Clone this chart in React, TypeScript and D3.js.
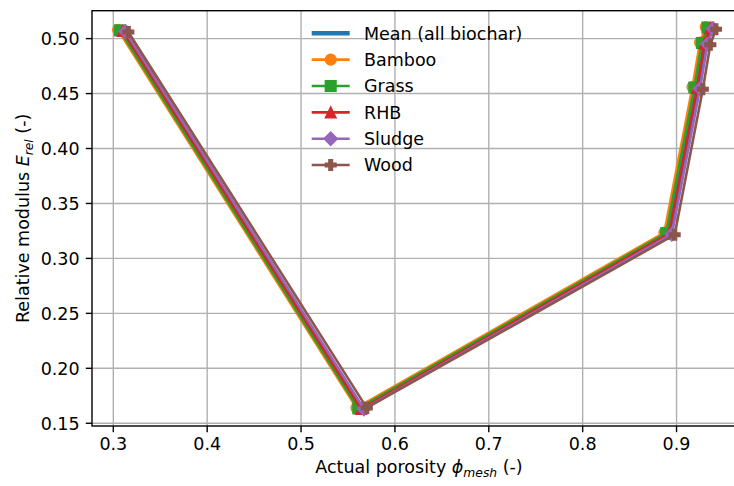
import * as d3 from "d3";

const seriesNames = ["Mean (all biochar)", "Bamboo", "Grass", "RHB", "Sludge", "Wood"];
const seriesColors = ["#1f77b4", "#ff7f0e", "#2ca02c", "#d62728", "#9467bd", "#8c564b"];
const seriesMarkers = ["none", "circle", "square", "triangle", "diamond", "plus"];

const meanX = [0.31, 0.564, 0.892, 0.922, 0.93, 0.936];
const meanY = [0.507, 0.1635, 0.3225, 0.455, 0.4955, 0.5095];
const bambooX = [0.305, 0.559, 0.887, 0.917, 0.925, 0.931];
const bambooY = [0.508, 0.164, 0.3235, 0.456, 0.4965, 0.5105];
const grassX = [0.307, 0.561, 0.889, 0.919, 0.927, 0.933];
const grassY = [0.5075, 0.1635, 0.323, 0.4555, 0.496, 0.51];
const rhbX = [0.31, 0.564, 0.892, 0.922, 0.93, 0.936];
const rhbY = [0.507, 0.163, 0.3225, 0.455, 0.4955, 0.5095];
const sludgeX = [0.313, 0.567, 0.895, 0.925, 0.933, 0.939];
const sludgeY = [0.5065, 0.163, 0.322, 0.4545, 0.495, 0.509];
const woodX = [0.316, 0.57, 0.898, 0.928, 0.936, 0.942];
const woodY = [0.506, 0.164, 0.3215, 0.454, 0.4945, 0.5085];

const xTicks = [0.3, 0.4, 0.5, 0.6, 0.7, 0.8, 0.9];
const yTicks = [0.15, 0.2, 0.25, 0.3, 0.35, 0.4, 0.45, 0.5];

const allX = [meanX, bambooX, grassX, rhbX, sludgeX, woodX];
const allY = [meanY, bambooY, grassY, rhbY, sludgeY, woodY];

const W = 734;
const H = 486;
const margin = { left: 92, top: 10.7, right: 746, bottom: 426 };
const FONT = "DejaVu Sans";
const FS = 17.5;
const MS = 10.6;

function Marker({ type, x, y, color }: { type: string; x: number; y: number; color: string }) {
  const r = MS / 2;
  const common = { fill: color, stroke: color, strokeWidth: 1.5, strokeLinejoin: "miter" as const };
  if (type === "circle") return <circle cx={x} cy={y} r={r} {...common} />;
  if (type === "square") return <rect x={x - r} y={y - r} width={MS} height={MS} {...common} />;
  if (type === "triangle")
    return <path d={`M${x},${y - r}L${x - r},${y + r}L${x + r},${y + r}Z`} {...common} />;
  if (type === "diamond") {
    const d = r * 1.25;
    return <path d={`M${x},${y - d}L${x + d},${y}L${x},${y + d}L${x - d},${y}Z`} {...common} />;
  }
  if (type === "plus") {
    const a = r / 3;
    const p = [
      [-a, -r], [a, -r], [a, -a], [r, -a], [r, a], [a, a], [a, r], [-a, r], [-a, a], [-r, a], [-r, -a], [-a, -a],
    ];
    return <path d={"M" + p.map(([px, py]) => `${x + px},${y + py}`).join("L") + "Z"} {...common} />;
  }
  return null;
}

export default function App() {
  const x = d3.scaleLinear().domain([0.2773, 0.974]).range([margin.left, margin.right]);
  const y = d3.scaleLinear().domain([0.1475, 0.5254]).range([margin.bottom, margin.top]);

  const line = d3
    .line<[number, number]>()
    .x((d) => x(d[0]))
    .y((d) => y(d[1]));

  const legendX = 311.7;
  const legendTextX = 364;
  const legendY0 = 33.3;
  const legendStep = 26.35;

  return (
    <svg
      width={W}
      height={H}
      style={{ position: "absolute", left: 0, top: 0, background: "#fff" }}
      fontFamily={FONT}
    >
      <rect width={W} height={H} fill="#fff" />
      {/* grid */}
      {xTicks.map((t) => (
        <line key={"gx" + t} x1={x(t)} x2={x(t)} y1={margin.top} y2={margin.bottom} stroke="#b0b0b0" strokeWidth={1.4} />
      ))}
      {yTicks.map((t) => (
        <line key={"gy" + t} x1={margin.left} x2={margin.right} y1={y(t)} y2={y(t)} stroke="#b0b0b0" strokeWidth={1.4} />
      ))}

      {/* series */}
      {allX.map((xs, i) => {
        const pts = xs.map((v, j) => [v, allY[i][j]] as [number, number]);
        return (
          <g key={seriesNames[i]}>
            <path d={line(pts) || ""} fill="none" stroke={seriesColors[i]} strokeWidth={i === 0 ? 4.4 : 2.6} />
            {pts.map((p, j) => (
              <Marker key={j} type={seriesMarkers[i]} x={x(p[0])} y={y(p[1])} color={seriesColors[i]} />
            ))}
          </g>
        );
      })}

      {/* spines */}
      <rect
        x={margin.left}
        y={margin.top}
        width={margin.right - margin.left}
        height={margin.bottom - margin.top}
        fill="none"
        stroke="#000"
        strokeWidth={1.4}
      />

      {/* x ticks */}
      {xTicks.map((t) => (
        <g key={"xt" + t}>
          <line x1={x(t)} x2={x(t)} y1={margin.bottom} y2={margin.bottom + 6.2} stroke="#000" strokeWidth={1.4} />
          <text x={x(t)} y={margin.bottom + 24} textAnchor="middle" fontSize={FS} fill="#000">
            {d3.format(".1f")(t)}
          </text>
        </g>
      ))}
      {/* y ticks */}
      {yTicks.map((t) => (
        <g key={"yt" + t}>
          <line x1={margin.left - 6.2} x2={margin.left} y1={y(t)} y2={y(t)} stroke="#000" strokeWidth={1.4} />
          <text x={margin.left - 12.4} y={y(t) + 6.4} textAnchor="end" fontSize={FS} fill="#000">
            {d3.format(".2f")(t)}
          </text>
        </g>
      ))}

      {/* axis labels */}
      <text x={(margin.left + margin.right) / 2} y={473} textAnchor="middle" fontSize={FS} fill="#000">
        Actual porosity <tspan fontStyle="italic">ϕ</tspan>
        <tspan fontStyle="italic" fontSize={12.3} dy={3.5}>mesh</tspan>
        <tspan dy={-3.5}> (-)</tspan>
      </text>
      <text
        transform={`translate(29,${(margin.top + margin.bottom) / 2}) rotate(-90)`}
        textAnchor="middle"
        fontSize={FS}
        fill="#000"
      >
        Relative modulus <tspan fontStyle="italic">E</tspan>
        <tspan fontStyle="italic" fontSize={12.3} dy={3.5}>rel</tspan>
        <tspan dy={-3.5}> (-)</tspan>
      </text>

      {/* legend */}
      {seriesNames.map((name, i) => {
        const ly = legendY0 + i * legendStep;
        return (
          <g key={"lg" + name}>
            <line
              x1={legendX}
              x2={legendX + 38}
              y1={ly}
              y2={ly}
              stroke={seriesColors[i]}
              strokeWidth={i === 0 ? 4.4 : 2.6}
            />
            <Marker type={seriesMarkers[i]} x={legendX + 19} y={ly} color={seriesColors[i]} />
            <text x={legendTextX} y={ly + 6.3} fontSize={FS} fill="#000">
              {name}
            </text>
          </g>
        );
      })}
    </svg>
  );
}
